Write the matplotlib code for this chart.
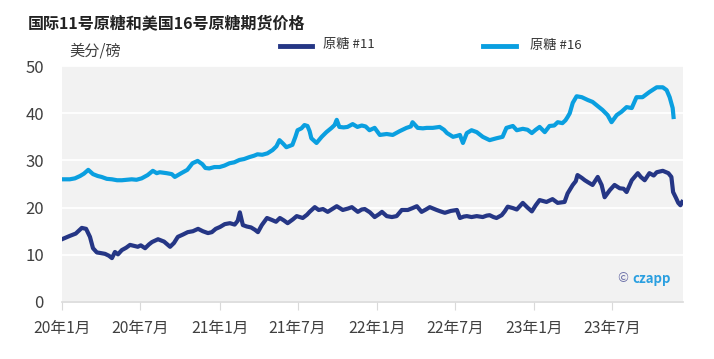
import matplotlib.pyplot as plt
import pandas as pd

plt.rcParams['font.family'] = ['Noto Sans CJK SC', 'DejaVu Sans']

# 原糖 #11 (美分/磅)
fechas_11 = [
    "2020-01-01", "2020-01-19", "2020-02-02", "2020-02-16", "2020-02-26", "2020-03-06",
    "2020-03-13", "2020-03-22", "2020-03-29", "2020-04-10", "2020-04-19", "2020-04-26",
    "2020-05-03", "2020-05-10", "2020-05-19", "2020-05-29", "2020-06-07", "2020-06-16",
    "2020-06-25", "2020-07-02", "2020-07-12", "2020-07-21", "2020-07-28", "2020-08-11",
    "2020-08-25", "2020-09-08", "2020-09-17", "2020-09-26", "2020-10-08", "2020-10-19",
    "2020-10-31", "2020-11-12", "2020-11-23", "2020-12-05", "2020-12-14", "2020-12-23",
    "2021-01-02", "2021-01-13", "2021-01-25", "2021-02-05", "2021-02-12", "2021-02-17",
    "2021-02-24", "2021-03-05", "2021-03-15", "2021-03-24", "2021-03-31", "2021-04-09",
    "2021-04-21", "2021-05-02", "2021-05-12", "2021-05-21", "2021-05-30", "2021-06-08",
    "2021-06-20", "2021-06-29", "2021-07-13", "2021-07-23", "2021-07-29", "2021-08-10",
    "2021-08-19", "2021-08-29", "2021-09-09", "2021-09-21", "2021-09-30", "2021-10-14",
    "2021-10-26", "2021-11-04", "2021-11-18", "2021-11-27", "2021-12-04", "2021-12-16",
    "2021-12-27", "2022-01-06", "2022-01-13", "2022-01-24", "2022-02-05", "2022-02-16",
    "2022-02-28", "2022-03-14", "2022-03-25", "2022-04-04", "2022-04-15", "2022-04-25",
    "2022-05-04", "2022-05-20", "2022-05-29", "2022-06-08", "2022-06-22", "2022-07-06",
    "2022-07-13", "2022-07-22", "2022-07-29", "2022-08-09", "2022-08-21", "2022-09-04",
    "2022-09-13", "2022-09-20", "2022-09-29", "2022-10-06", "2022-10-18", "2022-10-25",
    "2022-11-01", "2022-11-13", "2022-11-22", "2022-12-06", "2022-12-17", "2022-12-27",
    "2023-01-05", "2023-01-14", "2023-01-30", "2023-02-13", "2023-02-25", "2023-03-13",
    "2023-03-20", "2023-04-01", "2023-04-08", "2023-04-12", "2023-04-22", "2023-04-29",
    "2023-05-06", "2023-05-17", "2023-05-29", "2023-06-07", "2023-06-14", "2023-06-26",
    "2023-07-07", "2023-07-19", "2023-07-28", "2023-08-04", "2023-08-16", "2023-08-30",
    "2023-09-06", "2023-09-15", "2023-09-26", "2023-10-06", "2023-10-13", "2023-10-27",
    "2023-11-09", "2023-11-16", "2023-11-20", "2023-11-27", "2023-12-02", "2023-12-07",
    "2023-12-11",
]
precio_11 = [
    13.3, 14.0, 14.5, 15.7, 15.5, 13.8,
    11.4, 10.5, 10.4, 10.2, 9.8, 9.3,
    10.6, 10.1, 11.0, 11.5, 12.1, 11.9,
    11.7, 12.0, 11.4, 12.2, 12.7, 13.3,
    12.8, 11.7, 12.5, 13.8, 14.3, 14.8,
    15.0, 15.5, 15.0, 14.6, 14.8, 15.5,
    15.9, 16.5, 16.7, 16.4, 17.2, 19.0,
    16.3, 16.0, 15.8, 15.3, 14.8, 16.3,
    17.8, 17.4, 17.0, 17.8, 17.3, 16.7,
    17.5, 18.2, 17.8, 18.5, 19.1, 20.1,
    19.5, 19.7, 19.1, 19.8, 20.3, 19.5,
    19.8, 20.1, 19.1, 19.6, 19.7, 19.0,
    18.0, 18.6, 19.1, 18.2, 18.0, 18.2,
    19.5, 19.5, 19.9, 20.3, 19.1, 19.6,
    20.1, 19.5, 19.2, 18.9, 19.3, 19.5,
    17.8, 18.1, 18.2, 18.0, 18.2, 18.0,
    18.3, 18.4, 18.0, 17.8, 18.4, 19.2,
    20.2, 19.9, 19.6, 21.0, 20.0, 19.2,
    20.5, 21.6, 21.2, 21.8, 21.0, 21.2,
    23.0, 24.8, 25.6, 26.9, 26.3, 25.8,
    25.4, 24.8, 26.5, 24.8, 22.2, 23.7,
    24.8, 24.1, 24.0, 23.3, 25.8, 27.3,
    26.5, 25.8, 27.3, 26.8, 27.5, 27.8,
    27.3, 26.5, 23.3, 22.0, 21.0, 20.5,
    21.2,
]

# 原糖 #16 (美分/磅)
fechas_16 = [
    "2020-01-01", "2020-01-19", "2020-01-31", "2020-02-12", "2020-02-21", "2020-03-02",
    "2020-03-13", "2020-03-24", "2020-04-02", "2020-04-14", "2020-04-26", "2020-05-08",
    "2020-05-19", "2020-05-31", "2020-06-11", "2020-06-22", "2020-07-04", "2020-07-18",
    "2020-07-30", "2020-08-08", "2020-08-15", "2020-08-31", "2020-09-12", "2020-09-19",
    "2020-10-04", "2020-10-18", "2020-10-30", "2020-11-11", "2020-11-22", "2020-11-29",
    "2020-12-08", "2020-12-20", "2021-01-01", "2021-01-12", "2021-01-24", "2021-02-04",
    "2021-02-16", "2021-02-27", "2021-03-11", "2021-03-22", "2021-03-30", "2021-04-10",
    "2021-04-22", "2021-05-04", "2021-05-13", "2021-05-20", "2021-05-29", "2021-06-05",
    "2021-06-19", "2021-06-26", "2021-07-01", "2021-07-10", "2021-07-17", "2021-07-24",
    "2021-07-29", "2021-08-02", "2021-08-14", "2021-08-26", "2021-09-06", "2021-09-18",
    "2021-09-25", "2021-09-30", "2021-10-06", "2021-10-16", "2021-10-25", "2021-11-06",
    "2021-11-17", "2021-11-27", "2021-12-06", "2021-12-15", "2021-12-27", "2022-01-08",
    "2022-01-24", "2022-02-07", "2022-02-23", "2022-03-11", "2022-03-21", "2022-03-25",
    "2022-04-06", "2022-04-18", "2022-04-27", "2022-05-11", "2022-05-27", "2022-06-06",
    "2022-06-13", "2022-06-27", "2022-07-06", "2022-07-13", "2022-07-20", "2022-07-29",
    "2022-08-09", "2022-08-21", "2022-09-04", "2022-09-20", "2022-10-06", "2022-10-20",
    "2022-10-29", "2022-11-13", "2022-11-22", "2022-12-06", "2022-12-17", "2022-12-27",
    "2023-01-05", "2023-01-14", "2023-01-26", "2023-02-06", "2023-02-17", "2023-02-25",
    "2023-03-08", "2023-03-15", "2023-03-20", "2023-03-25", "2023-04-01", "2023-04-10",
    "2023-04-22", "2023-05-06", "2023-05-17", "2023-05-29", "2023-06-09", "2023-06-21",
    "2023-06-30", "2023-07-12", "2023-07-23", "2023-08-04", "2023-08-16", "2023-08-27",
    "2023-09-10", "2023-09-26", "2023-10-13", "2023-10-27", "2023-11-05", "2023-11-12",
    "2023-11-19", "2023-11-21",
]
precio_16 = [
    26.0, 26.0, 26.2, 26.7, 27.2, 28.0,
    27.1, 26.7, 26.5, 26.1, 26.0, 25.8,
    25.8, 25.9, 26.0, 25.9, 26.2, 26.9,
    27.8, 27.3, 27.5, 27.3, 27.1, 26.5,
    27.3, 28.0, 29.4, 29.9, 29.2, 28.4,
    28.3, 28.6, 28.6, 28.9, 29.4, 29.6,
    30.1, 30.3, 30.7, 31.0, 31.3, 31.2,
    31.5, 32.2, 33.0, 34.3, 33.5, 32.8,
    33.3, 35.0, 36.4, 36.8, 37.5, 37.3,
    36.2, 34.7, 33.7, 35.0, 36.0, 36.9,
    37.5, 38.6, 37.1, 37.0, 37.1, 37.7,
    37.1, 37.4, 37.2, 36.4, 36.9, 35.4,
    35.6, 35.4, 36.2, 36.9, 37.2, 38.1,
    36.9, 36.8, 36.9, 36.9, 37.1, 36.5,
    35.8, 35.0, 35.2, 35.4, 33.7, 35.8,
    36.4, 36.0, 35.0, 34.3, 34.7, 35.0,
    36.9, 37.3, 36.4, 36.7, 36.5, 35.8,
    36.5, 37.1, 36.0, 37.3, 37.4, 38.1,
    37.9, 38.5, 39.2, 40.0, 42.2, 43.6,
    43.4, 42.8, 42.4, 41.5, 40.7, 39.6,
    38.1, 39.6, 40.3, 41.3, 41.1, 43.4,
    43.4, 44.5, 45.5, 45.5, 44.9, 43.4,
    41.1, 39.2,
]

ticks_fechas = ["2020-01-01", "2020-07-01", "2021-01-01", "2021-07-01",
                "2022-01-01", "2022-07-01", "2023-01-01", "2023-07-01"]
ticks_etiquetas = ["20年1月", "20年7月", "21年1月", "21年7月",
                   "22年1月", "22年7月", "23年1月", "23年7月"]

color_11 = '#253685'
color_16 = '#0a9fe0'

fig = plt.figure(figsize=(7.14, 3.59), dpi=100)
ax = fig.add_axes([0.0868, 0.1588, 0.8698, 0.6572])
ax.set_facecolor('#f2f2f2')

ax.plot(pd.to_datetime(fechas_16), precio_16, color=color_16, lw=3.0,
        solid_joinstyle='round', zorder=3)
ax.plot(pd.to_datetime(fechas_11), precio_11, color=color_11, lw=3.0,
        solid_joinstyle='round', zorder=3)

ax.set_ylim(0, 50)
ax.set_yticks([0, 10, 20, 30, 40, 50])
ax.set_xlim(pd.Timestamp("2020-01-01"), pd.Timestamp("2023-12-13"))
ax.set_xticks(pd.to_datetime(ticks_fechas))
ax.set_xticklabels(ticks_etiquetas)

ax.grid(axis='y', color='white', lw=1.3, zorder=1)
ax.set_axisbelow(True)
for lado in ['top', 'right', 'left']:
    ax.spines[lado].set_visible(False)
ax.spines['bottom'].set_color('#d9d9d9')
ax.spines['bottom'].set_linewidth(1.2)
ax.tick_params(axis='x', length=6, color='#d9d9d9', labelsize=11.3,
               labelcolor='#404040', pad=7)
ax.tick_params(axis='y', length=0, labelsize=12, labelcolor='#404040', pad=13)

# Título, unidad y leyenda
fig.text(0.039, 0.935, "国际11号原糖和美国16号原糖期货价格", fontsize=11.5,
         fontweight='bold', color='#222222', va='center', ha='left')
fig.text(0.097, 0.858, "美分/磅", fontsize=11, color='#404040', va='center', ha='left')

fig.lines.append(plt.Line2D([280 / 714, 312 / 714], [0.872, 0.872], color=color_11,
                            lw=3.5, transform=fig.transFigure))
fig.text(323 / 714, 0.876, "原糖 #11", fontsize=9.5, color='#333333', va='center')
fig.lines.append(plt.Line2D([483 / 714, 516 / 714], [0.872, 0.872], color=color_16,
                            lw=3.5, transform=fig.transFigure))
fig.text(530 / 714, 0.872, "原糖 #16", fontsize=9.5, color='#333333', va='center')

# Marca de agua
fig.text(617 / 714, 0.223, "©", fontsize=9.5, color='#6b6fa8', va='center')
fig.text(632 / 714, 0.223, "czapp", fontsize=9.5, fontweight='bold', color='#2a9fe0',
         va='center')

fig.savefig('out.png', dpi=100)
